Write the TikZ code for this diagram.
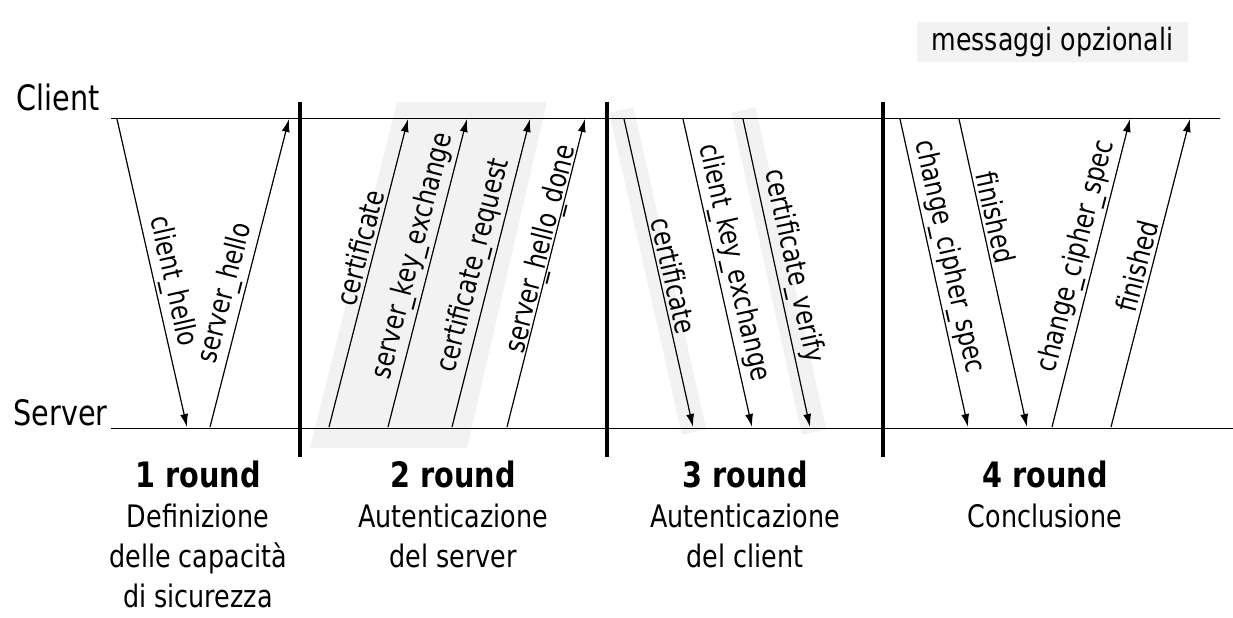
\documentclass[tikz,border=0pt]{standalone}
\usepackage{fontspec}
\setmainfont{DejaVu Sans}[FakeStretch=0.82]
\usetikzlibrary{arrows.meta,positioning}

\definecolor{optgray}{RGB}{242,242,242}
\newcommand\msgfont{\fontsize{14.3}{16}\selectfont}
\newcommand\sidefont{\fontsize{17.5}{20}\selectfont}
\newcommand\roundfont{\fontsize{15.5}{20}\selectfont}
\newcommand\roundhead{\fontsize{17.5}{21.5}\selectfont\bfseries}

\begin{document}
\begin{tikzpicture}[
  x=0.5pt, y=-0.5pt,
  >=Latex,
  timeline/.style={line width=0.5pt},
  divider/.style={line width=1.7pt},
  msg/.style={-{Latex[length=6.5pt,width=4pt]}, line width=0.6pt},
  lbl/.style={sloped, above, font=\msgfont, inner sep=1.5pt},
  band/.style={fill=optgray, draw=none},
  roundlbl/.style={anchor=north, align=center, font=\roundfont, inner sep=0pt}
]
\useasboundingbox (0,0) rectangle (1233,617);

% --- Optional messages (gray bands)
\fill[optgray] (397,102) -- (547,102) -- (467,448) -- (310,448) -- cycle;
\draw[optgray, line width=12.5pt] (621.3,110) -- (694.1,432);
\draw[optgray, line width=12.5pt] (743.4,110) -- (814.1,432);

% --- Time lines
\node[anchor=base west, font=\sidefont, inner sep=0pt] (client) at (16,110) {Client};
\node[anchor=base west, font=\sidefont, inner sep=0pt] (server) at (13,425) {Server};
\coordinate (cl0) at (111,118);
\coordinate (cl1) at (1220,118);
\coordinate (sv0) at (111,428);
\coordinate (sv1) at (1233,428);
\draw[timeline] (cl0) -- (cl1);
\draw[timeline] (sv0) -- (sv1);

% --- Round separators
\draw[divider] (300,102) -- (300,457);
\draw[divider] (607,102) -- (607,457);
\draw[divider] (883,102) -- (883,457);

% --- Round 1
\coordinate (chT) at (117,119);  \coordinate (chB) at (187,427);
\coordinate (shB) at (210,427);  \coordinate (shT) at (289,119);
\draw[msg] (chT) -- node[lbl, pos=.54] {client\_hello} (chB);
\draw[msg] (shB) -- node[lbl, pos=.42] {server\_hello} (shT);

% --- Round 2
\coordinate (scB) at (329,427);  \coordinate (scT) at (408,119);
\coordinate (skB) at (388,427);  \coordinate (skT) at (467,119);
\coordinate (crB) at (452,427);  \coordinate (crT) at (530,119);
\coordinate (sdB) at (507,427);  \coordinate (sdT) at (585,119);
\draw[msg] (scB) -- node[lbl, pos=.57] {certificate} (scT);
\draw[msg] (skB) -- node[lbl, pos=.54] {server\_key\_exchange} (skT);
\draw[msg] (crB) -- node[lbl, pos=.51] {certificate\_request} (crT);
\draw[msg] (sdB) -- node[lbl, pos=.57, inner sep=0pt, yshift=-2.5pt] {server\_hello\_done} (sdT);

% --- Round 3
\coordinate (ccT) at (624,119);  \coordinate (ccB) at (693,427);
\coordinate (ckT) at (683,119);  \coordinate (ckB) at (752,427);
\coordinate (cvT) at (743,119);  \coordinate (cvB) at (810,427);
\draw[msg] (ccT) -- node[lbl, pos=.52] {certificate} (ccB);
\draw[msg] (ckT) -- node[lbl, pos=.48] {client\_key\_exchange} (ckB);
\draw[msg] (cvT) -- node[lbl, pos=.49] {certificate\_verify} (cvB);

% --- Round 4
\coordinate (xcT) at (900,119);  \coordinate (xcB) at (968,427);
\coordinate (cfT) at (959,119);  \coordinate (cfB) at (1027,427);
\coordinate (ycB) at (1052,427); \coordinate (ycT) at (1130,119);
\coordinate (sfB) at (1111,427); \coordinate (sfT) at (1190,119);
\draw[msg] (xcT) -- node[lbl, pos=.46] {change\_cipher\_spec} (xcB);
\draw[msg] (cfT) -- node[lbl, pos=.33] {finished} (cfB);
\draw[msg] (ycB) -- node[lbl, pos=.54] {change\_cipher\_spec} (ycT);
\draw[msg] (sfB) -- node[lbl, pos=.51] {finished} (sfT);

% --- Round captions
\node[roundlbl] (r1) at (198,460) {{\roundhead 1 round}\\Definizione\\delle capacità\\di sicurezza};
\node[roundlbl] (r2) at (453,460) {{\roundhead 2 round}\\Autenticazione\\del server};
\node[roundlbl] (r3) at (745,460) {{\roundhead 3 round}\\Autenticazione\\del client};
\node[roundlbl] (r4) at (1045,460) {{\roundhead 4 round}\\Conclusione};

% --- Legend
\node[band, font=\fontsize{15.4}{17}\selectfont, minimum width=135.5pt, minimum height=20pt,
  inner sep=0pt] (legend) at (1052.5,42) {messaggi opzionali};

\end{tikzpicture}
\end{document}
